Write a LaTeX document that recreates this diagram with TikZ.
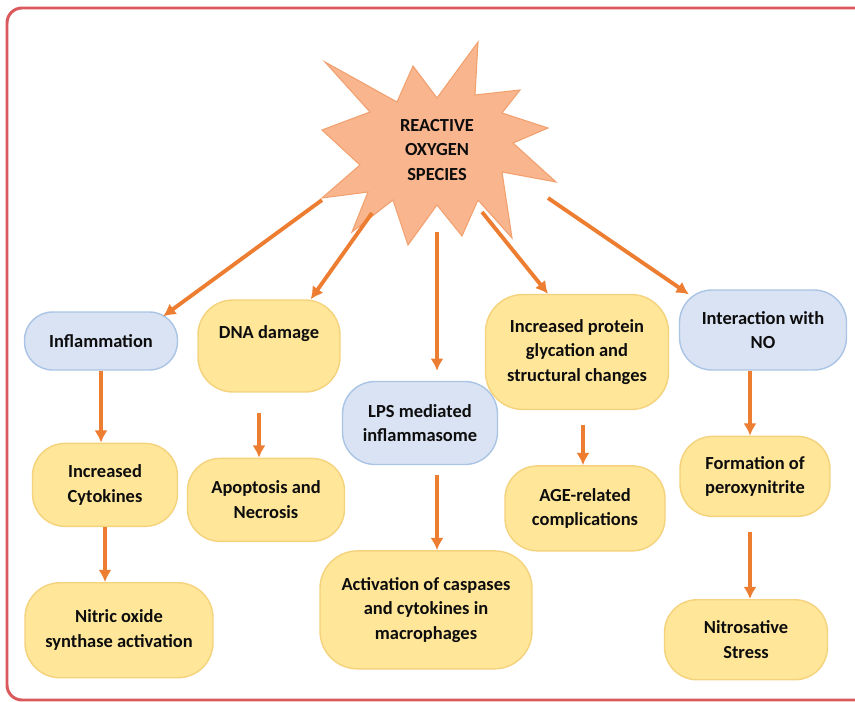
\documentclass[tikz,border=0pt]{standalone}
\usepackage{fontspec}
\setmainfont{Carlito}
\usepackage{tikz}
\usetikzlibrary{arrows.meta,positioning,calc}
\definecolor{yellowfill}{HTML}{FFE699}
\definecolor{yellowedge}{HTML}{F5D27C}
\definecolor{bluefill}{HTML}{DAE3F3}
\definecolor{blueedge}{HTML}{A9C4E4}
\definecolor{rosfill}{HTML}{F8B58E}
\definecolor{rosedge}{HTML}{F2A06E}
\definecolor{flow}{HTML}{ED7D31}
\definecolor{framered}{HTML}{D9595C}
\tikzset{
  procbox/.style={
    rectangle, rounded corners=0.56cm, draw=#1edge, fill=#1fill, line width=0.8pt,
    font=\bfseries\fontsize{10.5}{14}\selectfont, text=black!95,
    align=center, inner sep=4pt
  },
  procbox/.default=yellow,
  flowarrow/.style={
    -{Latex[length=7pt,width=7.5pt]}, line width=2.2pt, color=flow
  },
  burst/.style={draw=rosedge, fill=rosfill, line width=0.6pt},
}
\begin{document}
\begin{tikzpicture}[x=0.02cm, y=-0.02cm]
\useasboundingbox (0,0) rectangle (855,702);

% outer frame
\draw[framered, line width=1.7pt, rounded corners=0.3cm] (7,8) rectangle (900,700);

% ROS burst
\draw[burst] (325,62) -- (397,102) -- (413,66) -- (437,98) -- (478,42) -- (475,95)
  -- (520,90) -- (502,113) -- (548,128) -- (513,143) -- (556,182) -- (502,172)
  -- (512,238) -- (478,200) -- (462,236) -- (437,205) -- (408,245) -- (393,200)
  -- (352,232) -- (368,192) -- (322,198) -- (360,165) -- (322,130) -- (370,112) -- cycle;
\node[font=\bfseries\fontsize{10.5}{14}\selectfont, align=center, text=black!95] (ros) at (437,150)
  {REACTIVE\\OXYGEN\\SPECIES};

% exits from the burst
\coordinate (s1) at (322,200);
\coordinate (s2) at (372,213);
\coordinate (s3) at (437,232);
\coordinate (s4) at (482,212);
\coordinate (s5) at (548,198);

% first row
\node[procbox=blue, minimum width=3.06cm, minimum height=1.16cm] (infl) at (101,341) {Inflammation};
\node[procbox, rounded corners=0.7cm, minimum width=2.84cm, minimum height=1.84cm, text height=7pt, text depth=15pt] (dna) at (269,346) {DNA damage};
\node[procbox=blue, rounded corners=0.65cm, minimum width=3.1cm, minimum height=1.66cm] (lps) at (420,423) {LPS mediated\\inflammasome};
\node[procbox, rounded corners=0.75cm, minimum width=3.66cm, minimum height=2.3cm] (glyc) at (577,352) {Increased protein\\glycation and\\structural changes};
\node[procbox=blue, rounded corners=0.65cm, minimum width=3.34cm, minimum height=1.6cm] (nointer) at (763,330) {Interaction with\\NO};

% second row
\node[procbox, rounded corners=0.65cm, below=1.44cm of infl, xshift=0.08cm, minimum width=2.9cm, minimum height=1.66cm] (cyto) {Increased\\Cytokines};
\node[procbox, rounded corners=0.65cm, below=1.3cm of dna, xshift=-0.06cm, minimum width=3.14cm, minimum height=1.66cm] (apop) {Apoptosis and\\Necrosis};
\node[procbox, rounded corners=0.75cm, below=1.7cm of lps, xshift=0.12cm, minimum width=4.24cm, minimum height=2.36cm] (casp) {Activation of caspases\\and cytokines in\\macrophages};
\node[procbox, rounded corners=0.65cm, below=1.1cm of glyc, xshift=0.16cm, minimum width=3.2cm, minimum height=1.7cm] (agecomp) {AGE-related\\complications};
\node[procbox, rounded corners=0.65cm, below=1.3cm of nointer, xshift=-0.16cm, minimum width=3.0cm, minimum height=1.6cm] (perox) {Formation of\\peroxynitrite};

% third row
\node[procbox, rounded corners=0.7cm, below=1.1cm of cyto, xshift=0.28cm, minimum width=3.76cm, minimum height=1.9cm] (nos) {Nitric oxide\\synthase activation};
\node[procbox, rounded corners=0.65cm, below=1.64cm of perox, xshift=-0.18cm, minimum width=3.26cm, minimum height=1.6cm] (nitro) {Nitrosative\\Stress};

% burst to first row
\draw[flowarrow] (s1) -- ([shift={(-0.3cm,-0.1cm)}]infl.north east);
\draw[flowarrow] (s2) -- ([xshift=-0.6cm]dna.north east);
\draw[flowarrow, shorten >=0.2cm] (s3) -- (s3 |- lps.north);
\draw[flowarrow] (s4) -- ([xshift=-0.58cm]glyc.north);
\draw[flowarrow] (s5) -- ([shift={(0.2cm,-0.1cm)}]nointer.north west);

% chains
\draw[flowarrow] (infl.south) -- (infl.south |- cyto.north);
\draw[flowarrow] (cyto.south) -- (cyto.south |- nos.north);
\draw[flowarrow, shorten <=0.4cm] ([xshift=-0.2cm]dna.south) -- ([xshift=-0.2cm]dna.south |- apop.north);
\draw[flowarrow, shorten <=0.2cm] ([xshift=0.34cm]lps.south) -- ([xshift=0.34cm]lps.south |- casp.north);
\draw[flowarrow, shorten <=0.3cm] ([xshift=0.12cm]glyc.south) -- ([xshift=0.12cm]glyc.south |- agecomp.north);
\draw[flowarrow] ([xshift=-0.26cm]nointer.south) -- ([xshift=-0.26cm]nointer.south |- perox.north);
\draw[flowarrow, shorten <=0.3cm] ([xshift=-0.1cm]perox.south) -- ([xshift=-0.1cm]perox.south |- nitro.north);

\end{tikzpicture}
\end{document}
